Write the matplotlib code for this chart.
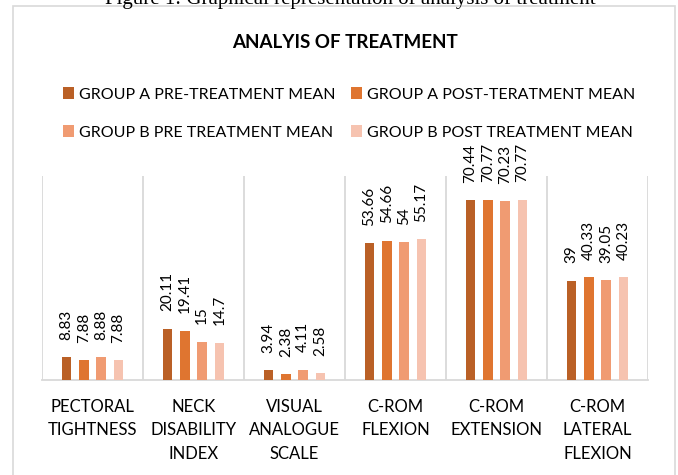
import matplotlib.pyplot as plt
import numpy as np
from matplotlib.patches import Rectangle

categories = ["PECTORAL\nTIGHTNESS", "NECK\nDISABILITY\nINDEX", "VISUAL\nANALOGUE\nSCALE",
              "C-ROM\nFLEXION", "C-ROM\nEXTENSION", "C-ROM\nLATERAL\nFLEXION"]
series_names = ["GROUP A PRE-TREATMENT MEAN", "GROUP A POST-TERATMENT MEAN",
                "GROUP B PRE TREATMENT MEAN", "GROUP B POST TREATMENT MEAN"]
a_pre = [8.83, 20.11, 3.94, 53.66, 70.44, 39]
a_post = [7.88, 19.41, 2.38, 54.66, 70.77, 40.33]
b_pre = [8.88, 15, 4.11, 54, 70.23, 39.05]
b_post = [7.88, 14.7, 2.58, 55.17, 70.77, 40.23]
series = [a_pre, a_post, b_pre, b_post]
colors = ["#BA6026", "#DF7530", "#F09B72", "#F6C3B0"]

plt.rcParams['font.family'] = ['Lato', 'DejaVu Sans']

fig = plt.figure(figsize=(6.78, 4.75), dpi=100)
ax = fig.add_axes([42 / 678, 1 - 380 / 475, 606 / 678, 204 / 475])

# chart frame and the cut-off caption above it
fig.patches.append(Rectangle((13 / 678, -0.1), 662 / 678, 1.1 - 6 / 475,
                             transform=fig.transFigure, fill=False,
                             edgecolor="#D9D9D9", lw=1.2))
fig.text(0.516, 1 - 4 / 475, "Figure 1: Graphical representation of analysis of treatment",
         family="Liberation Serif", fontsize=15, ha="center", va="baseline")
fig.text(0.509, 1 - 42 / 475, "ANALYIS OF TREATMENT", fontsize=13.5,
         fontweight="bold", ha="center", va="center")

x = np.arange(len(categories))
step = 0.171
width = 0.093
bars = []
for i, vals in enumerate(series):
    pos = x + (i - 1.5) * step
    b = ax.bar(pos, vals, width, color=colors[i], label=series_names[i], zorder=3)
    bars.append(b)
    for p, v in zip(pos, vals):
        ax.annotate(f"{v:g}", (p, v), xytext=(0, 12.5), textcoords="offset points",
                    rotation=90, ha="center", va="bottom", fontsize=11)

ax.set_xlim(-0.5, len(categories) - 0.5)
ax.set_ylim(0, 80)
for b in np.arange(-0.5, len(categories), 1):
    ax.axvline(b, color="#D9D9D9", lw=1.3, zorder=1)
for s in ["top", "right", "left"]:
    ax.spines[s].set_visible(False)
ax.spines["bottom"].set_color("#D9D9D9")
ax.spines["bottom"].set_linewidth(1.3)
ax.set_yticks([])
ax.set_xticks(x)
ax.set_xticklabels(categories, fontsize=12, linespacing=1.57)
ax.tick_params(axis="x", length=0, pad=13.5)

order = [0, 2, 1, 3]
fig.legend([bars[i] for i in order], [series_names[i] for i in order],
           ncol=2, loc="center", bbox_to_anchor=(0.515, 1 - 113.5 / 475),
           frameon=False, fontsize=11.5, handlelength=0.7, handleheight=0.7,
           handletextpad=0.3, columnspacing=1.0, labelspacing=1.5)

fig.savefig("out.png", dpi=100)
